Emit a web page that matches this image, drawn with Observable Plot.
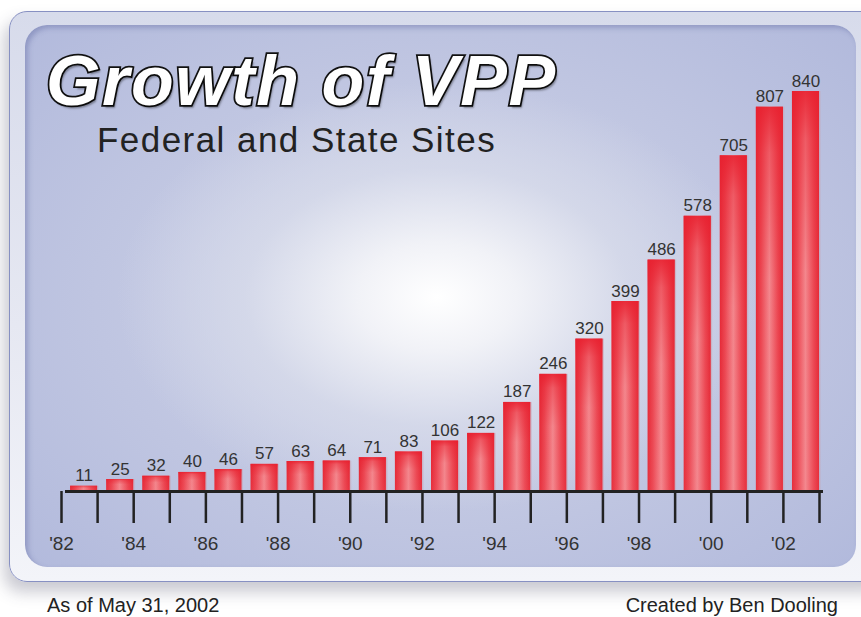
<!DOCTYPE html>
<html><head><meta charset="utf-8">
<script src="https://cdn.jsdelivr.net/npm/d3@7"></script>
<script src="https://cdn.jsdelivr.net/npm/@observablehq/plot@0.6"></script>
<style>
html,body{margin:0;padding:0;background:#fff;}
#wrap{position:relative;width:861px;height:617px;overflow:hidden;font-family:"Liberation Sans",Arial,Helvetica,sans-serif;}
#outer{position:absolute;left:9px;top:11px;width:880px;height:569px;border:1.5px solid #8790c2;border-radius:18px;
  background:linear-gradient(180deg,#d7dbeb 0%,#e6e8f2 55%,#f3f4f9 100%);
  box-shadow:-5px 10px 16px rgba(60,60,90,0.28);}
#inner{position:absolute;left:25px;top:25px;width:831px;height:542px;border-radius:22px;
  background:
    radial-gradient(ellipse 320px 215px at 412px 272px, #ffffff 0%, #f1f2f7 25%, rgba(214,218,234,0.85) 60%, rgba(200,206,230,0) 100%),
    radial-gradient(ellipse 620px 430px at 412px 272px, #d2d6e9 0%, #bfc5e1 55%, #afb7db 100%);
  box-shadow: inset 3px 3px 5px rgba(80,90,150,0.35);}
#title{position:absolute;left:46px;top:46px;font-size:70px;line-height:1;font-weight:bold;font-style:italic;
  color:#fff;-webkit-text-stroke:3.5px #111;paint-order:stroke fill;letter-spacing:1.6px;
  text-shadow:2px 3px 2px rgba(0,0,0,0.35);white-space:nowrap;}
#subtitle{position:absolute;left:97px;top:122px;font-size:35px;line-height:1;color:#222;letter-spacing:1.45px;white-space:nowrap;}
#note{position:absolute;left:47px;top:595px;font-size:20px;line-height:1;color:#222;white-space:nowrap;}
#credit{position:absolute;right:23px;top:595px;font-size:20px;line-height:1;color:#222;white-space:nowrap;}
#chart{position:absolute;left:0;top:0;}
</style>
</head><body>
<div id="wrap">
  <div id="outer"></div>
  <div id="inner"></div>
  <div id="title">Growth of VPP</div>
  <div id="subtitle">Federal and State Sites</div>
  <div id="chart"></div>
  <div id="note">As of May 31, 2002</div>
  <div id="credit">Created by Ben Dooling</div>
</div>
<script>
const years = [1982,1983,1984,1985,1986,1987,1988,1989,1990,1991,1992,1993,1994,1995,1996,1997,1998,1999,2000,2001,2002];
const sites = [11,25,32,40,46,57,63,64,71,83,106,122,187,246,320,399,486,578,705,807,840];
const tickYears = [1982,1983,1984,1985,1986,1987,1988,1989,1990,1991,1992,1993,1994,1995,1996,1997,1998,1999,2000,2001,2002,2003];
const labelYears = [1982,1984,1986,1988,1990,1992,1994,1996,1998,2000,2002];
const tickLabels = ["'82","'84","'86","'88","'90","'92","'94","'96","'98","'00","'02"];

const data = years.map((y, i) => ({year: y, value: sites[i]}));
const labelMap = new Map(labelYears.map((y, i) => [y, tickLabels[i]]));

const defs = () => {
  const d = d3.create("svg:defs");
  const h = d.append("linearGradient").attr("id", "barH").attr("x1", 0).attr("x2", 1).attr("y1", 0).attr("y2", 0);
  [["0%", "#e52a37"], ["20%", "#ec4a55"], ["50%", "#f48c92"], ["80%", "#ec4a55"], ["100%", "#e52a37"]]
    .forEach(([o, c]) => h.append("stop").attr("offset", o).attr("stop-color", c));
  const v = d.append("linearGradient").attr("id", "barV").attr("x1", 0).attr("x2", 0).attr("y1", 0).attr("y2", 1);
  [["0%", "#e8202f", 0.9], ["12%", "#e8202f", 0.45], ["45%", "#e8202f", 0.05], ["100%", "#f06070", 0.1]]
    .forEach(([o, c, a]) => v.append("stop").attr("offset", o).attr("stop-color", c).attr("stop-opacity", a));
  return d.node();
};

const plot = Plot.plot({
  width: 861,
  height: 617,
  marginLeft: 65,
  marginRight: 38,
  marginTop: 91,
  marginBottom: 126,
  style: {background: "transparent", overflow: "visible", fontFamily: "Liberation Sans, Arial, sans-serif"},
  x: {type: "linear", domain: [1982, 2003], axis: null},
  y: {domain: [0, 840], axis: null},
  marks: [
    defs,
    Plot.rectY(data, {x1: d => d.year + 0.16, x2: d => d.year + 0.93, y: "value", fill: "#c9a3b2", fillOpacity: 0.55}),
    Plot.rectY(data, {x1: d => d.year + 0.14, x2: d => d.year + 0.89, y: "value", fill: "url(#barH)"}),
    Plot.rectY(data, {x1: d => d.year + 0.14, x2: d => d.year + 0.89, y: "value", fill: "url(#barV)"}),
    Plot.text(data, {x: d => d.year + 0.515, y: "value", text: d => String(d.value), lineAnchor: "bottom", dy: -5,
      fontSize: 17, fill: "#333", style: "letter-spacing:1px"}),
    Plot.ruleY([0], {stroke: "#222", strokeWidth: 3}),
    Plot.axisX({ticks: tickYears, tickSize: 32, tickPadding: 13, tickFormat: d => labelMap.get(d) ?? "",
      stroke: "#222", strokeWidth: 2.5, fontSize: 19, fill: "#333", dx: -4})
  ]
});
document.getElementById("chart").appendChild(plot);
</script>
</body></html>
